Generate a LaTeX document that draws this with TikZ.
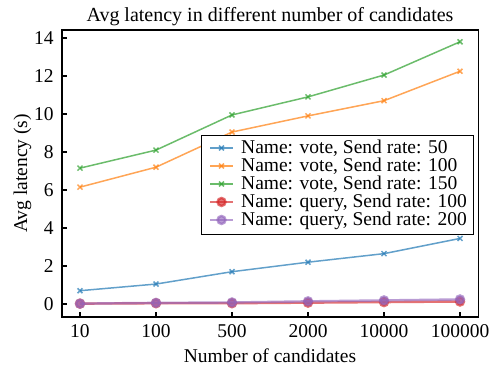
\documentclass[tikz,border=0pt]{standalone}
\usepackage{fontspec}
\setmainfont{Liberation Serif}
\definecolor{cblue}{HTML}{1F77B4}
\definecolor{corange}{HTML}{FF7F0E}
\definecolor{cgreen}{HTML}{2CA02C}
\definecolor{cred}{HTML}{D62728}
\definecolor{cpurple}{HTML}{9467BD}
\tikzset{>=stealth,
  txt/.style={font=\fontsize{19.5}{21}\selectfont, inner sep=0pt},
  vote/.style={line width=1.5pt, opacity=.7, mark=x, mark size=3.5pt},
  query/.style={line width=2.4pt, opacity=.65, mark=*, mark size=4pt},
}

\begin{document}
\begin{tikzpicture}[x=76pt,y=19pt]
\useasboundingbox (-1.0526,-3.5263) rectangle (5.3947,16);
% data
\draw[vote,cblue] plot coordinates {(0,0.7) (1,1.05) (2,1.7) (3,2.2) (4,2.65) (5,3.45)};
\draw[vote,corange] plot coordinates {(0,6.15) (1,7.2) (2,9.05) (3,9.9) (4,10.7) (5,12.25)};
\draw[vote,cgreen] plot coordinates {(0,7.15) (1,8.1) (2,9.95) (3,10.9) (4,12.05) (5,13.8)};
\draw[query,cred] plot coordinates {(0,0.02) (1,0.04) (2,0.04) (3,0.07) (4,0.1) (5,0.13)};
\draw[query,cpurple] plot coordinates {(0,0.02) (1,0.06) (2,0.08) (3,0.14) (4,0.19) (5,0.24)};
% frame and ticks
\coordinate (ll) at (-0.24,-0.68);
\coordinate (ur) at (5.24,14.42);
\draw[line width=1.5pt] (ll) rectangle (ur);
\foreach \v in {0,2,...,14}{
  \draw[line width=1.1pt] (-0.24,\v) -- ++(5pt,0);
  \node[txt,anchor=east,xshift=-8pt] (yt\v) at (-0.24,\v) {\v};
}
\foreach \n [count=\i from 0] in {10,100,500,2000,10000,100000}{
  \draw[line width=1.1pt] (\i,-0.68) -- ++(0,5pt);
  \node[txt,anchor=north,yshift=-7pt] (xt\i) at (\i,-0.68) {\n};
}
\node[txt,font=\fontsize{20}{22}\selectfont,anchor=base] (title) at (2.5,14.87) {Avg latency in different number of candidates};
\node[txt,anchor=base] (xlab) at (2.5,-3.1) {Number of candidates};
\node[txt,anchor=base,rotate=90] (ylab) at (-0.697,6.87) {Avg latency (s)};
% legend
\draw[fill=white,line width=1pt] (1.605,3.684) rectangle (5.171,8.842);
\foreach \c/\s/\t [count=\k from 0] in {cblue/vote/{Name: vote, Send rate: 50},
    corange/vote/{Name: vote, Send rate: 100}, cgreen/vote/{Name: vote, Send rate: 150},
    cred/query/{Name: query, Send rate: 100}, cpurple/query/{Name: query, Send rate: 200}}{
  \pgfmathsetmacro\y{8.211-0.947*\k}
  \draw[\s,\c,mark indices={2}] plot coordinates {(1.711,\y) (1.862,\y) (2.013,\y)};
  \node[txt,anchor=base west] (lg\k) at (2.118,\y-0.316) {\t};
}
\end{tikzpicture}
\end{document}
